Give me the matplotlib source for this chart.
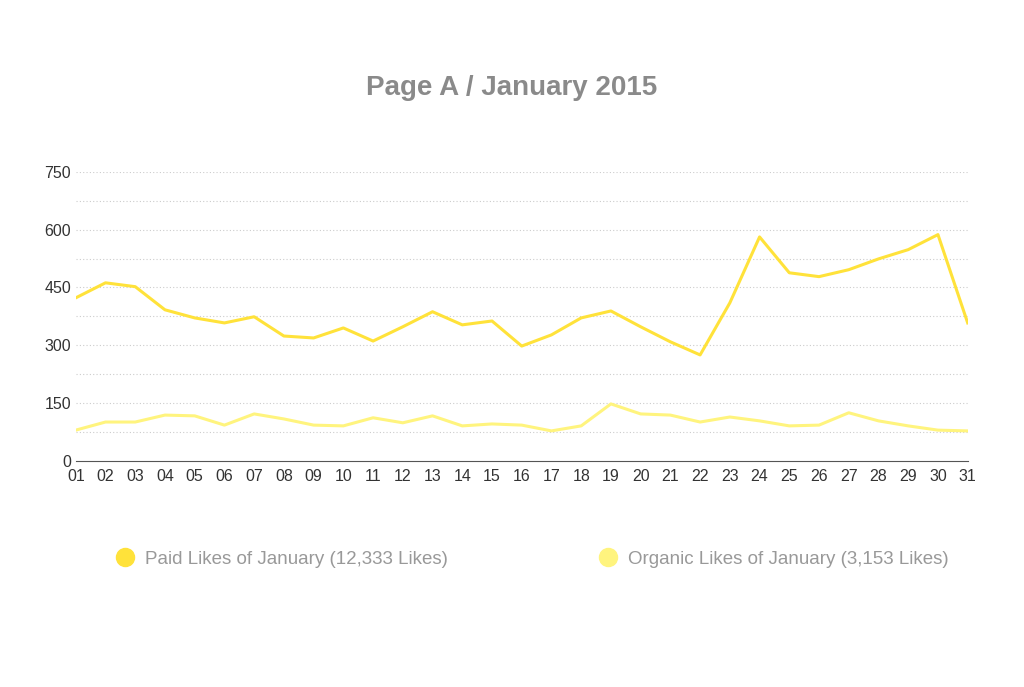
import matplotlib.pyplot as plt
from matplotlib.lines import Line2D

plt.rcParams["font.family"] = "Liberation Sans"

days = ["%02d" % d for d in range(1, 32)]
paid = [423, 462, 452, 392, 371, 358, 374, 324, 319, 345, 311, 348, 387, 353, 363, 298,
        327, 371, 389, 348, 309, 275, 410, 581, 488, 478, 496, 524, 548, 587, 358]
organic = [80, 101, 101, 119, 117, 93, 122, 109, 93, 91, 112, 99, 117, 91, 96, 93,
           78, 91, 148, 122, 119, 101, 114, 104, 91, 93, 125, 104, 91, 80, 78]
yticks = [0, 150, 300, 450, 600, 750]

paid_color = "#FFE23A"
organic_color = "#FFF47E"

fig = plt.figure(figsize=(10.24, 6.87), dpi=100)
ax = fig.add_axes([0.074, 0.329, 0.871, 0.421])
x = list(range(len(days)))
ax.plot(x, paid, color=paid_color, lw=2.2)
ax.plot(x, organic, color=organic_color, lw=2.2)

ax.set_xlim(0, len(days) - 1)
ax.set_ylim(0, 750)
ax.set_xticks(x)
ax.set_xticklabels(days)
ax.set_yticks(yticks)
for v in range(75, 751, 75):
    ax.axhline(v, color="#cccccc", lw=0.8, ls=(0, (1, 2)), zorder=0)
for s in ["top", "right", "left"]:
    ax.spines[s].set_visible(False)
ax.spines["bottom"].set_color("#555555")
ax.tick_params(axis="both", length=0, labelsize=11.5, colors="#333333")
ax.tick_params(axis="x", pad=6)

fig.text(0.5, 0.872, "Page A / January 2015", ha="center", va="center",
         fontsize=20, fontweight="bold", color="#8a8a8a")

handles = [
    Line2D([], [], marker="o", ls="", ms=13, color=paid_color),
    Line2D([], [], marker="o", ls="", ms=13, color=organic_color),
]
labels = ["Paid Likes of January (12,333 Likes)", "Organic Likes of January (3,153 Likes)"]
fig.legend(handles, labels, loc="center", bbox_to_anchor=(0.515, 0.186), ncol=2,
           frameon=False, fontsize=13.5, labelcolor="#999999", columnspacing=7.5,
           handletextpad=0.1)

plt.savefig("out.png")
